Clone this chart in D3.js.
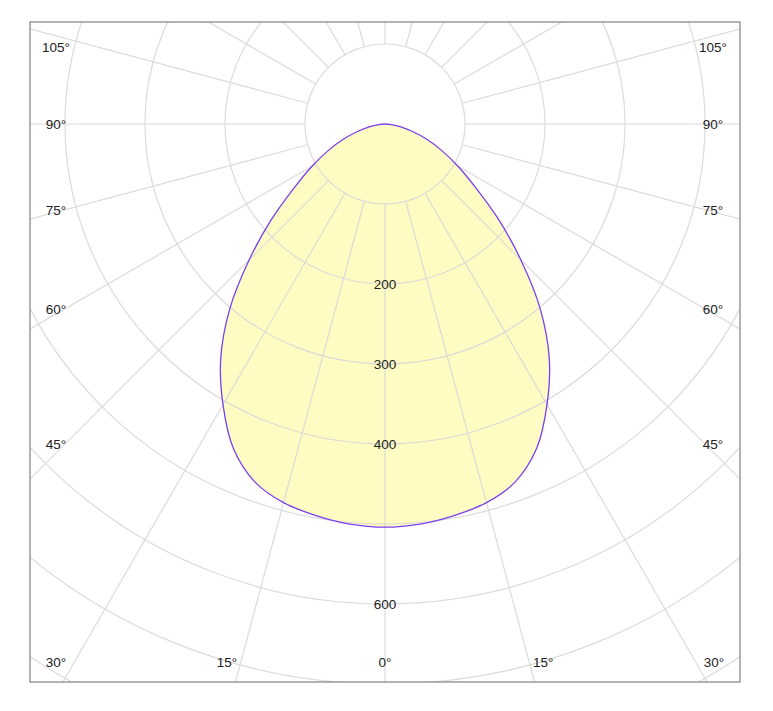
<!DOCTYPE html>
<html>
<head>
<meta charset="utf-8">
<script src="https://cdn.jsdelivr.net/npm/d3@7"></script>
<style>
  body { margin: 0; background: #fff; }
  text { font-family: Arial, "Liberation Sans", sans-serif; font-size: 13.5px; fill: #222; }
</style>
</head>
<body>
<svg id="chart" width="773" height="711"></svg>
<script>
'use strict';

// intensity (cd) every 5 degrees from nadir, symmetric
const angles = [0, 5, 10, 15, 20, 25, 30, 35, 40, 45, 50, 55, 60, 65, 70, 75, 80, 85, 90];
const intensity = [504, 502, 497, 490, 476, 448, 405, 358, 302, 240, 185, 138, 105, 78, 55, 35, 20, 8, 0];
const rings = [100, 200, 300, 400, 500, 600, 700, 800, 900];
const ringLabels = [200, 300, 400, 600];
const sideLabels = [45, 60, 75, 90, 105];
const bottomLabels = [0, 15, 30];

const svg = d3.select('#chart');
const box = {x: 30, y: 22, w: 710, h: 660};
const cx = 385, cy = 124;
const r = d3.scaleLinear().domain([0, 100]).range([0, 80]);
const rad = a => a * Math.PI / 180;

svg.append('clipPath').attr('id', 'clip')
  .append('rect').attr('x', box.x).attr('y', box.y).attr('width', box.w).attr('height', box.h);

const g = svg.append('g').attr('clip-path', 'url(#clip)');

// curve: left side then right side, angle 0 = up clockwise for lineRadial
const pts = angles.map((a, i) => [Math.PI + rad(a), r(intensity[i])])
  .concat(angles.slice(1, -1).reverse().map(a => [Math.PI - rad(a), r(intensity[angles.indexOf(a)])]));
const line = d3.lineRadial().angle(d => d[0]).radius(d => d[1]).curve(d3.curveCatmullRomClosed);

g.append('path')
  .attr('transform', `translate(${cx},${cy})`)
  .attr('d', line(pts))
  .attr('fill', '#fffbb8')
  .attr('fill-opacity', 0.85);

const grid = g.append('g').attr('transform', `translate(${cx},${cy})`)
  .attr('stroke', '#d8d8d8').attr('fill', 'none').attr('stroke-width', 1.2).attr('opacity', 0.9);

grid.selectAll('circle').data(rings).join('circle').attr('r', d => r(d));

grid.selectAll('line').data(d3.range(0, 360, 15)).join('line')
  .attr('x1', d => r(100) * Math.sin(rad(d)))
  .attr('y1', d => r(100) * Math.cos(rad(d)))
  .attr('x2', d => 1000 * Math.sin(rad(d)))
  .attr('y2', d => 1000 * Math.cos(rad(d)));

g.append('path')
  .attr('transform', `translate(${cx},${cy})`)
  .attr('d', line(pts))
  .attr('fill', 'none')
  .attr('stroke', '#7b3ff0')
  .attr('stroke-width', 1.3);

svg.selectAll('text.ring').data(ringLabels).join('text')
  .attr('class', 'ring')
  .attr('x', cx).attr('y', d => cy + r(d) + 5)
  .attr('text-anchor', 'middle')
  .text(d => d);

sideLabels.forEach(a => {
  const off = 320 / Math.tan(rad(a));
  const y = cy + (a > 90 ? off * 0.9 : off) + 5;
  svg.append('text').attr('x', 56).attr('y', y).attr('text-anchor', 'middle').text(a + '°');
  svg.append('text').attr('x', 713).attr('y', y).attr('text-anchor', 'middle').text(a + '°');
});

bottomLabels.forEach(a => {
  const dx = Math.min(590 * Math.tan(rad(a)), 329);
  svg.append('text').attr('x', cx - dx).attr('y', 667).attr('text-anchor', 'middle').text(a + '°');
  if (a > 0) svg.append('text').attr('x', cx + dx).attr('y', 667).attr('text-anchor', 'middle').text(a + '°');
});

svg.append('rect')
  .attr('x', box.x).attr('y', box.y).attr('width', box.w).attr('height', box.h)
  .attr('fill', 'none').attr('stroke', '#999').attr('stroke-width', 1.5);
</script>
</body>
</html>
